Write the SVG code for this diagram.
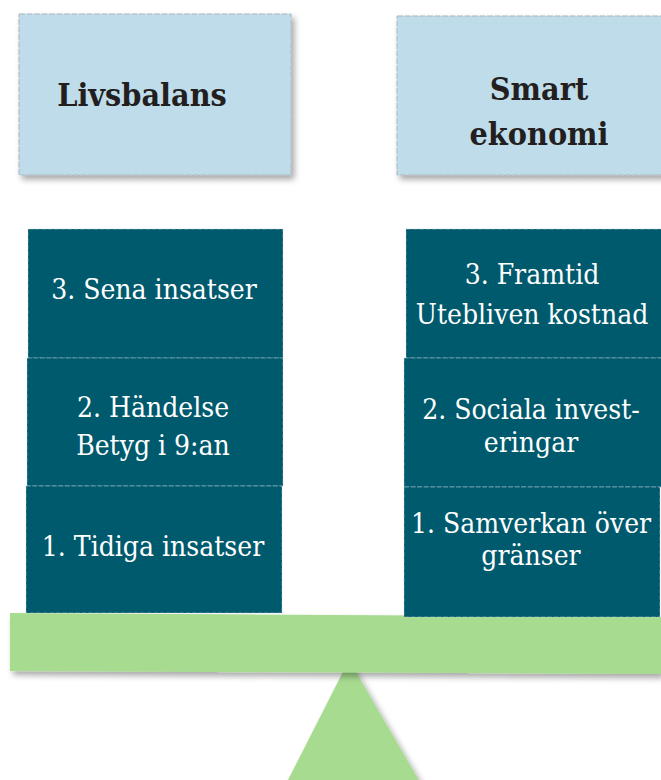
<svg xmlns="http://www.w3.org/2000/svg" width="661" height="780" viewBox="0 0 661 780">
<defs>
<style>
.title{fill:#BFDCEA;stroke:#A9B6BC;stroke-width:1;stroke-dasharray:6 1.5}
.blk{fill:#005A6D;stroke:#C9D8DC;stroke-opacity:0.6;stroke-width:0.8;stroke-dasharray:5 1.5}
.green{fill:#A7DB90}
.tt{font-family:"DejaVu Serif Condensed","DejaVu Serif",serif;font-stretch:condensed;font-weight:bold;font-size:32px;fill:#231F20;text-anchor:middle}
.bt{font-family:"DejaVu Serif Condensed","DejaVu Serif",serif;font-stretch:condensed;font-size:28px;fill:#FFFFFF;text-anchor:middle}
</style>
<filter id="sh" x="-10%" y="-10%" width="125%" height="130%">
<feGaussianBlur in="SourceAlpha" stdDeviation="3"/>
<feOffset dx="3" dy="4" result="b"/>
<feComponentTransfer><feFuncA type="linear" slope="0.35"/></feComponentTransfer>
<feMerge><feMergeNode/><feMergeNode in="SourceGraphic"/></feMerge>
</filter>
</defs>
<rect width="661" height="780" fill="#FFFFFF"/>
<g id="fulcrum"><polygon class="green" points="349,660 287,782 420,782" filter="url(#sh)"/></g>
<g id="beam"><polygon class="green" points="10,613 661,617 661,674 10,671" filter="url(#sh)"/></g>
<g id="livsbalans"><rect class="title" x="19" y="14" width="272" height="161" filter="url(#sh)"/><text class="tt" x="142" y="106">Livsbalans</text></g>
<g id="smart-ekonomi"><rect class="title" x="397" y="16" width="270" height="159" filter="url(#sh)"/><text class="tt" x="539" y="100">Smart</text><text class="tt" x="539" y="145">ekonomi</text></g>
<g id="left-stack">
<g id="sena-insatser"><rect class="blk" x="28" y="229" width="255" height="129"/><text class="bt" x="154" y="299">3. Sena insatser</text></g>
<g id="handelse"><rect class="blk" x="27" y="358" width="256" height="128"/><text class="bt" x="153" y="417">2. Händelse</text><text class="bt" x="153" y="455">Betyg i 9:an</text></g>
<g id="tidiga-insatser"><rect class="blk" x="26" y="486" width="256" height="127"/><text class="bt" x="153" y="556">1. Tidiga insatser</text></g>
</g>
<g id="right-stack">
<g id="framtid"><rect class="blk" x="406" y="229" width="258" height="129"/><text class="bt" x="532" y="284">3. Framtid</text><text class="bt" x="532" y="324">Utebliven kostnad</text></g>
<g id="sociala"><rect class="blk" x="404" y="358" width="260" height="129"/><text class="bt" x="531" y="419">2. Sociala invest-</text><text class="bt" x="531" y="452">eringar</text></g>
<g id="samverkan"><rect class="blk" x="404" y="487" width="256" height="130"/><text class="bt" x="531" y="533">1. Samverkan över</text><text class="bt" x="531" y="565">gränser</text></g>
</g>
<g id="connectors"/>
</svg>
